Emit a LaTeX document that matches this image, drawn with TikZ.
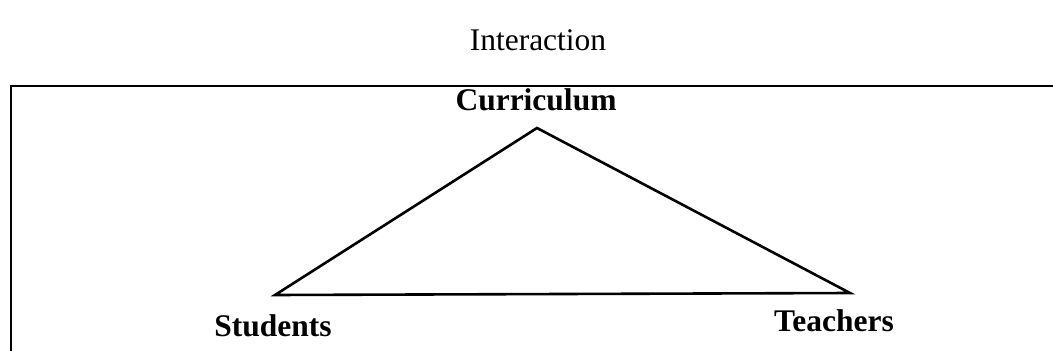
\documentclass[tikz,border=0pt]{standalone}
\usepackage{fontspec}
\setmainfont{Liberation Serif}
\usetikzlibrary{positioning}

\begin{document}
\begin{tikzpicture}[x=1pt,y=-1pt,
  label/.style={font=\fontsize{31.5}{36}\selectfont},
  corner/.style={font=\fontsize{31.5}{36}\selectfont\bfseries}]
  \useasboundingbox (0,0) rectangle (1053,351);
  % Title
  \node[label] (title) at (538,40) {Interaction};
  % Frame
  \draw[line width=1.8pt] (11,351) -- (11,86) -- (1053,86);
  % Corners
  \coordinate (top) at (537,128);
  \coordinate (left) at (275,295);
  \coordinate (right) at (850,293);
  \node[corner] (cur) at (536,100) {Curriculum};
  \node[corner] (stu) at (273,326) {Students};
  \node[corner] (tea) at (834,321) {Teachers};
  % Triangle
  \draw[line width=2.6pt, line join=miter] (top) -- (right) -- (left) -- cycle;
\end{tikzpicture}
\end{document}
